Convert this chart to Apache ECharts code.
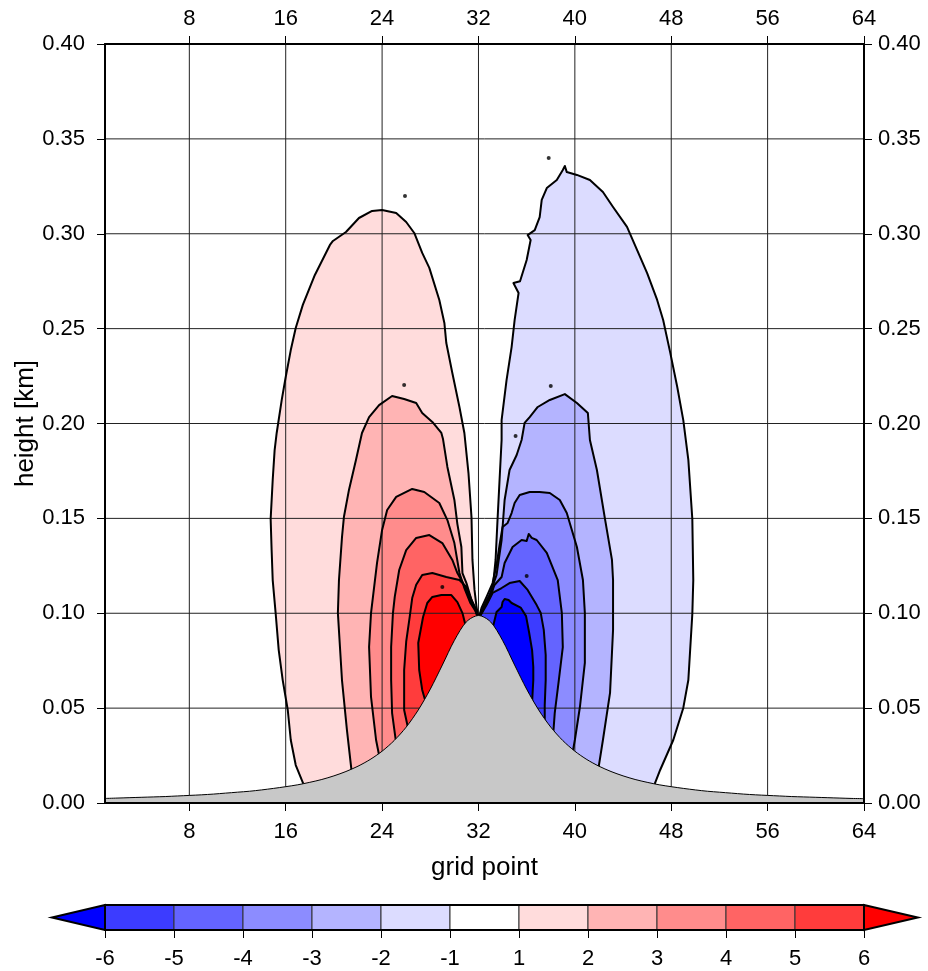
<!DOCTYPE html>
<html>
<head>
<meta charset="utf-8">
<title>height vs grid point</title>
<script src="https://cdn.jsdelivr.net/npm/echarts@6.0.0/dist/echarts.min.js"></script>
<style>
  html, body { margin: 0; padding: 0; background: #fff; }
  #chart { width: 928px; height: 971px; }
</style>
</head>
<body>
<div id="chart"></div>
<script>
// tick values
var xTicks = [8, 16, 24, 32, 40, 48, 56, 64];
var yGridLines = [0.05, 0.10, 0.15, 0.20, 0.25, 0.30, 0.35];

// terrain (km) at each grid point
var gridPoints = [1, 2, 3, 4, 5, 6, 7, 8, 9, 10, 11, 12, 13, 14, 15, 16,
  17, 18, 19, 20, 21, 22, 23, 24, 25, 26, 27, 28, 29, 30, 31, 32,
  33, 34, 35, 36, 37, 38, 39, 40, 41, 42, 43, 44, 45, 46, 47, 48,
  49, 50, 51, 52, 53, 54, 55, 56, 57, 58, 59, 60, 61, 62, 63, 64];
var terrainHeight = [0.0024, 0.0026, 0.0028, 0.0030, 0.0032, 0.0034, 0.0037, 0.0040,
  0.0043, 0.0047, 0.0052, 0.0057, 0.0062, 0.0069, 0.0077, 0.0086,
  0.0096, 0.0109, 0.0124, 0.0143, 0.0166, 0.0194, 0.0229, 0.0273,
  0.0329, 0.0400, 0.0490, 0.0600, 0.0727, 0.0857, 0.0955, 0.0988,
  0.0955, 0.0857, 0.0727, 0.0600, 0.0490, 0.0400, 0.0329, 0.0273,
  0.0229, 0.0194, 0.0166, 0.0143, 0.0124, 0.0109, 0.0096, 0.0086,
  0.0077, 0.0069, 0.0062, 0.0057, 0.0052, 0.0047, 0.0043, 0.0040,
  0.0037, 0.0034, 0.0032, 0.0030, 0.0028, 0.0026, 0.0024, 0.0023];

// contour outlines [grid point, height], levels 1..6
var redContour1 = [[17.6,0.008],[16.83,0.0200],[16.42,0.0332],[16.17,0.0490],[15.75,0.0648],[15.42,0.0806],
  [15.17,0.0996],[14.92,0.1175],[14.83,0.1333],[14.75,0.1497],[14.92,0.1702],[15.08,0.1860],[15.25,0.1950],
  [15.67,0.2124],[16.0,0.2245],[16.42,0.2387],[16.83,0.2503],[17.42,0.2625],[17.92,0.2704],[18.42,0.2783],
  [18.92,0.2846],[19.67,0.2941],[19.92,0.2962],[21.0,0.3009],[22.08,0.3083],[23.17,0.3120],[24.0,0.3125],
  [25.17,0.3109],[26.0,0.3062],[26.67,0.3004],[27.33,0.2899],[27.92,0.2820],[28.75,0.2651],[29.17,0.2530],
  [29.33,0.2424],[29.83,0.2266],[30.42,0.2087],[30.83,0.1950],[31.17,0.1739],[31.42,0.1507],[31.5,0.1281],
  [31.67,0.1123],[31.83,0.1038],[32.0,0.097]];
var redContour2 = [[21.5,0.015],[21.08,0.0385],[20.67,0.0648],[20.33,0.1001],[20.42,0.1175],[20.67,0.1400],
  [20.83,0.1507],[21.25,0.1650],[21.83,0.1808],[22.33,0.1950],[22.92,0.2034],[23.75,0.2097],[24.83,0.2145],
  [25.83,0.2129],[26.83,0.2108],[27.33,0.2055],[28.17,0.2008],[28.92,0.1950],[29.05,0.1920],[29.42,0.1771],
  [30.0,0.1597],[30.25,0.1470],[30.58,0.1349],[30.67,0.1212],[31.0,0.1159],[31.42,0.1070],[31.83,0.1017],[32,0.097]];
var redContour3 = [[23.85,0.022],[23.5,0.0332],[23.08,0.0559],[22.92,0.0822],[23.08,0.1001],[23.58,0.1265],
  [24.0,0.1439],[24.42,0.1544],[25.17,0.1613],[26.5,0.1655],[27.5,0.1639],[28.75,0.1581],[29.42,0.1491],
  [30.0,0.1370],[30.42,0.1212],[30.83,0.1133],[31.33,0.1054],[31.75,0.1012],[32,0.097]];
var redContour4 = [[25.2,0.030],[24.83,0.0474],[24.75,0.0648],[24.75,0.0822],[24.9,0.1001],[25.05,0.1086],
  [25.42,0.1228],[26.0,0.1333],[26.83,0.1397],[27.92,0.1412],[29.0,0.1370],[29.83,0.1281],[30.25,0.1212],
  [30.67,0.1165],[31.17,0.1091],[31.67,0.1028],[32,0.097]];
var redContour5 = [[26.17,0.039],[25.83,0.0490],[25.83,0.0700],[26.0,0.0850],[26.3,0.0985],[26.5,0.1080],
  [26.83,0.1150],[27.33,0.1202],[28.17,0.1212],[29.33,0.1191],[30.42,0.1175],[31.0,0.1138],[31.42,0.1070],
  [31.75,0.1017],[32,0.097]];
var redContour6 = [[27.67,0.052],[27.33,0.0596],[27.08,0.0701],[27.0,0.0843],[27.4,0.0980],[27.75,0.1054],
  [28.17,0.1086],[28.92,0.1096],[29.75,0.1096],[30.25,0.1059],[30.67,0.1001],[30.95,0.093]];

var blueContour1 = [[32,0.097],[32.25,0.1012],[32.58,0.1049],[33.17,0.1123],[33.42,0.1281],[33.58,0.1491],
  [33.75,0.1702],[33.92,0.1913],[33.92,0.2018],[34.33,0.2229],[34.75,0.2403],[35.0,0.2545],[35.33,0.2688],
  [34.9,0.2740],[35.45,0.2750],[36.0,0.2862],[36.33,0.2967],[36.08,0.2993],[36.67,0.3019],[37.08,0.3088],
  [37.25,0.3178],[37.67,0.3241],[38.5,0.3283],[39.0,0.3336],[39.17,0.3357],[39.33,0.3325],[40.17,0.3310],
  [41.25,0.3283],[42.33,0.3220],[43.17,0.3141],[44.33,0.3036],[45.17,0.2914],[46.0,0.2793],[46.83,0.2651],
  [47.33,0.2545],[47.92,0.2372],[48.5,0.2192],[49.0,0.2018],[49.42,0.1808],[49.75,0.1497],[49.83,0.1175],
  [49.75,0.0996],[49.42,0.0648],[49.0,0.0501],[48.17,0.0332],[47.08,0.0174],[46.5,0.008]];
var blueContour2 = [[32,0.097],[32.42,0.1033],[32.92,0.1096],[33.5,0.1202],[33.92,0.1386],[34.17,0.1597],
  [34.58,0.1755],[35.17,0.1834],[35.58,0.1913],[35.83,0.2003],[36.25,0.2034],[36.92,0.2087],[37.92,0.2124],
  [39.17,0.2155],[40.17,0.2108],[41.08,0.2055],[41.25,0.1913],[41.83,0.1755],[42.5,0.1497],[43.08,0.1281],
  [43.17,0.1175],[43.17,0.1001],[43.17,0.0912],[42.92,0.0580],[42.33,0.0332],[41.95,0.018]];
var blueContour3 = [[32,0.097],[32.25,0.1028],[32.67,0.1086],[33.17,0.1159],[33.5,0.1254],[33.75,0.1360],
  [34.0,0.1455],[34.42,0.1476],[34.75,0.1528],[35.0,0.1581],[35.42,0.1623],[36.25,0.1639],[37.08,0.1639],
  [37.92,0.1634],[38.75,0.1597],[39.33,0.1528],[40.17,0.1349],[40.67,0.1175],[40.83,0.1001],[40.83,0.0738],
  [40.42,0.0506],[40.0,0.0332],[39.8,0.026]];
var blueContour4 = [[32,0.097],[32.5,0.1033],[32.92,0.1080],[33.33,0.1149],[33.92,0.1191],[34.17,0.1265],
  [34.83,0.1349],[35.58,0.1386],[36.0,0.1381],[36.17,0.1418],[36.42,0.1397],[36.83,0.1386],[37.67,0.1318],
  [38.58,0.1175],[38.92,0.1001],[39.0,0.0822],[38.67,0.0648],[38.33,0.0474],[38.2,0.036]];
var blueContour5 = [[32,0.097],[32.67,0.1043],[33.17,0.1107],[33.92,0.1133],[34.58,0.1159],[35.42,0.1170],
  [36.08,0.1123],[36.83,0.1043],[37.17,0.1001],[37.42,0.0912],[37.58,0.0780],[37.58,0.0648],[37.5,0.0516],[37.5,0.042]];
var blueContour6 = [[33.17,0.092],[33.5,0.1007],[33.92,0.1033],[34.0,0.1059],[34.17,0.1075],[34.5,0.1070],
  [34.75,0.1054],[35.5,0.1030],[35.95,0.0985],[36.2,0.0900],[36.45,0.0806],[36.55,0.0717],[36.55,0.0648],[36.45,0.053]];

// tiny closed contours (specks)
var specks = [[29.0,0.1138],[25.83,0.2203],[25.9,0.3199],[37.83,0.3399],[38.0,0.2198],[35.08,0.1934],[36.0,0.1196]];

// colour scale
var cbarLabels = ['-6', '-5', '-4', '-3', '-2', '-1', '1', '2', '3', '4', '5', '6'];
var cbarColors = ['#3c3cff', '#6464ff', '#8c8cff', '#b4b4ff', '#dcdcff', '#ffffff',
  '#ffdcdc', '#ffb4b4', '#ff8c8c', '#ff6464', '#ff3c3c'];
var underColor = '#0000ff';
var overColor = '#ff0000';

var redContours = [redContour1, redContour2, redContour3, redContour4, redContour5, redContour6];
var blueContours = [blueContour1, blueContour2, blueContour3, blueContour4, blueContour5, blueContour6];
var redFills = ['#ffdcdc', '#ffb4b4', '#ff8c8c', '#ff6464', '#ff3c3c', '#ff0000'];
var blueFills = ['#dcdcff', '#b4b4ff', '#8c8cff', '#6464ff', '#3c3cff', '#0000ff'];

var FONT = 'Liberation Sans, Arial, Helvetica, sans-serif';

function fillSeries(points, color) {
  return {
    type: 'custom', xAxisIndex: 0, yAxisIndex: 0, z: 1, silent: true, clip: true,
    data: [points[0]],
    renderItem: function (params, api) {
      var pts = points.map(function (p) { return api.coord(p); });
      var last = points[points.length - 1], first = points[0];
      pts.push(api.coord([last[0], 0]));
      pts.push(api.coord([first[0], 0]));
      return { type: 'polygon', shape: { points: pts }, style: { fill: color, stroke: null } };
    }
  };
}

function lineSeries(points) {
  return {
    type: 'custom', xAxisIndex: 0, yAxisIndex: 0, z: 3, silent: true, clip: true,
    data: [points[0]],
    renderItem: function (params, api) {
      var pts = points.map(function (p) { return api.coord(p); });
      return { type: 'polyline', shape: { points: pts }, style: { fill: null, stroke: '#000', lineWidth: 2, lineJoin: 'round' } };
    }
  };
}

var series = [];
redContours.forEach(function (c, i) { series.push(fillSeries(c, redFills[i])); });
blueContours.forEach(function (c, i) { series.push(fillSeries(c, blueFills[i])); });

// grid lines over the shading
series.push({
  type: 'custom', xAxisIndex: 0, yAxisIndex: 0, z: 2, silent: true,
  data: xTicks.slice(0, -1).map(function (v) { return [v, 0]; }),
  renderItem: function (params, api) {
    var a = api.coord([api.value(0), 0]), b = api.coord([api.value(0), 0.4]);
    return { type: 'line', shape: { x1: a[0], y1: a[1], x2: b[0], y2: b[1] }, style: { stroke: '#222', lineWidth: 1 } };
  }
});
series.push({
  type: 'custom', xAxisIndex: 0, yAxisIndex: 0, z: 2, silent: true,
  data: yGridLines.map(function (v) { return [1, v]; }),
  renderItem: function (params, api) {
    var a = api.coord([1, api.value(1)]), b = api.coord([64, api.value(1)]);
    return { type: 'line', shape: { x1: a[0], y1: a[1], x2: b[0], y2: b[1] }, style: { stroke: '#222', lineWidth: 1 } };
  }
});

redContours.forEach(function (c) { series.push(lineSeries(c)); });
blueContours.forEach(function (c) { series.push(lineSeries(c)); });

series.push({
  type: 'scatter', xAxisIndex: 0, yAxisIndex: 0, z: 3, silent: true,
  symbolSize: 4, itemStyle: { color: '#000' }, data: specks
});

// terrain
series.push({
  type: 'line', xAxisIndex: 0, yAxisIndex: 0, z: 4, silent: true,
  data: gridPoints.map(function (x, i) { return [x, terrainHeight[i]]; }),
  symbol: 'none', smooth: 0.3,
  lineStyle: { color: '#000', width: 1 },
  areaStyle: { color: '#c8c8c8', opacity: 1 }
});

// colour bar bins
series.push({
  type: 'custom', xAxisIndex: 2, yAxisIndex: 2, z: 2, silent: true,
  data: cbarColors.map(function (c, i) { return [i, i + 1]; }),
  renderItem: function (params, api) {
    var p0 = api.coord([api.value(0), 1]), p1 = api.coord([api.value(1), 0]);
    return { type: 'rect', shape: { x: p0[0], y: p0[1], width: p1[0] - p0[0], height: p1[1] - p0[1] },
      style: { fill: cbarColors[params.dataIndex], stroke: '#333', lineWidth: 1 } };
  }
});
series.push({
  type: 'custom', xAxisIndex: 2, yAxisIndex: 2, z: 3, silent: true, clip: false,
  data: [[0, 0]],
  renderItem: function (params, api) {
    var n = cbarColors.length;
    var tl = api.coord([0, 1]), bl = api.coord([0, 0]), tr = api.coord([n, 1]), br = api.coord([n, 0]);
    var lt = api.coord([-0.77, 0.5]), rt = api.coord([n + 0.78, 0.5]);
    return { type: 'group', children: [
      { type: 'polygon', shape: { points: [tl, lt, bl] }, style: { fill: underColor, stroke: '#000', lineWidth: 2 } },
      { type: 'polygon', shape: { points: [tr, rt, br] }, style: { fill: overColor, stroke: '#000', lineWidth: 2 } },
      { type: 'rect', shape: { x: tl[0], y: tl[1], width: br[0] - tl[0], height: br[1] - tl[1] },
        style: { fill: null, stroke: '#000', lineWidth: 2 } }
    ] };
  }
});

var labelStyle = { fontSize: 22, color: '#000', fontFamily: FONT };
function xAxisMain(pos, margin, named) {
  var ax = {
    gridIndex: 0, type: 'value', min: 1, max: 64, position: pos, z: 10,
    axisLine: { show: true, onZero: false, lineStyle: { color: '#000', width: 2 } },
    axisTick: { show: true, customValues: xTicks, length: 8, lineStyle: { color: '#000', width: 1 } },
    axisLabel: Object.assign({ customValues: xTicks, margin: margin }, labelStyle),
    splitLine: { show: false }
  };
  if (named) {
    ax.name = 'grid point';
    ax.nameLocation = 'middle';
    ax.nameGap = 52;
    ax.nameMoveOverlap = false;
    ax.nameTextStyle = { fontSize: 26, color: '#000', fontFamily: FONT };
  }
  return ax;
}
function yAxisMain(pos, margin, named) {
  var ax = {
    gridIndex: 0, type: 'value', min: 0, max: 0.4, interval: 0.05, position: pos, z: 10,
    axisLine: { show: true, onZero: false, lineStyle: { color: '#000', width: 2 } },
    axisTick: { show: true, length: 8, lineStyle: { color: '#000', width: 1 } },
    axisLabel: Object.assign({ margin: margin, formatter: function (v) { return v.toFixed(2); } }, labelStyle),
    splitLine: { show: false }
  };
  if (named) {
    ax.name = 'height [km]';
    ax.nameLocation = 'middle';
    ax.nameGap = 66;
    ax.nameMoveOverlap = false;
    ax.nameTextStyle = { fontSize: 26, color: '#000', fontFamily: FONT };
  }
  return ax;
}

var chart = echarts.init(document.getElementById('chart'));
chart.setOption({
  animation: false,
  backgroundColor: '#ffffff',
  grid: [
    { left: 105, right: 64, top: 44, bottom: 168, containLabel: false, outerBoundsMode: 'none' },
    { left: 105, right: 64, top: 905, height: 25, containLabel: false, outerBoundsMode: 'none' }
  ],
  xAxis: [
    xAxisMain('bottom', 18, true),
    xAxisMain('top', 14, false),
    {
      gridIndex: 1, type: 'value', min: 0, max: cbarColors.length, interval: 1,
      axisLine: { show: false },
      axisTick: { show: true, length: 8, lineStyle: { color: '#000', width: 1 } },
      axisLabel: Object.assign({ margin: 18, formatter: function (v) { return cbarLabels[v]; } }, labelStyle),
      splitLine: { show: false }
    }
  ],
  yAxis: [
    yAxisMain('left', 20, true),
    yAxisMain('right', 14, false),
    { gridIndex: 1, type: 'value', min: 0, max: 1, show: false }
  ],
  series: series
});
</script>
</body>
</html>
